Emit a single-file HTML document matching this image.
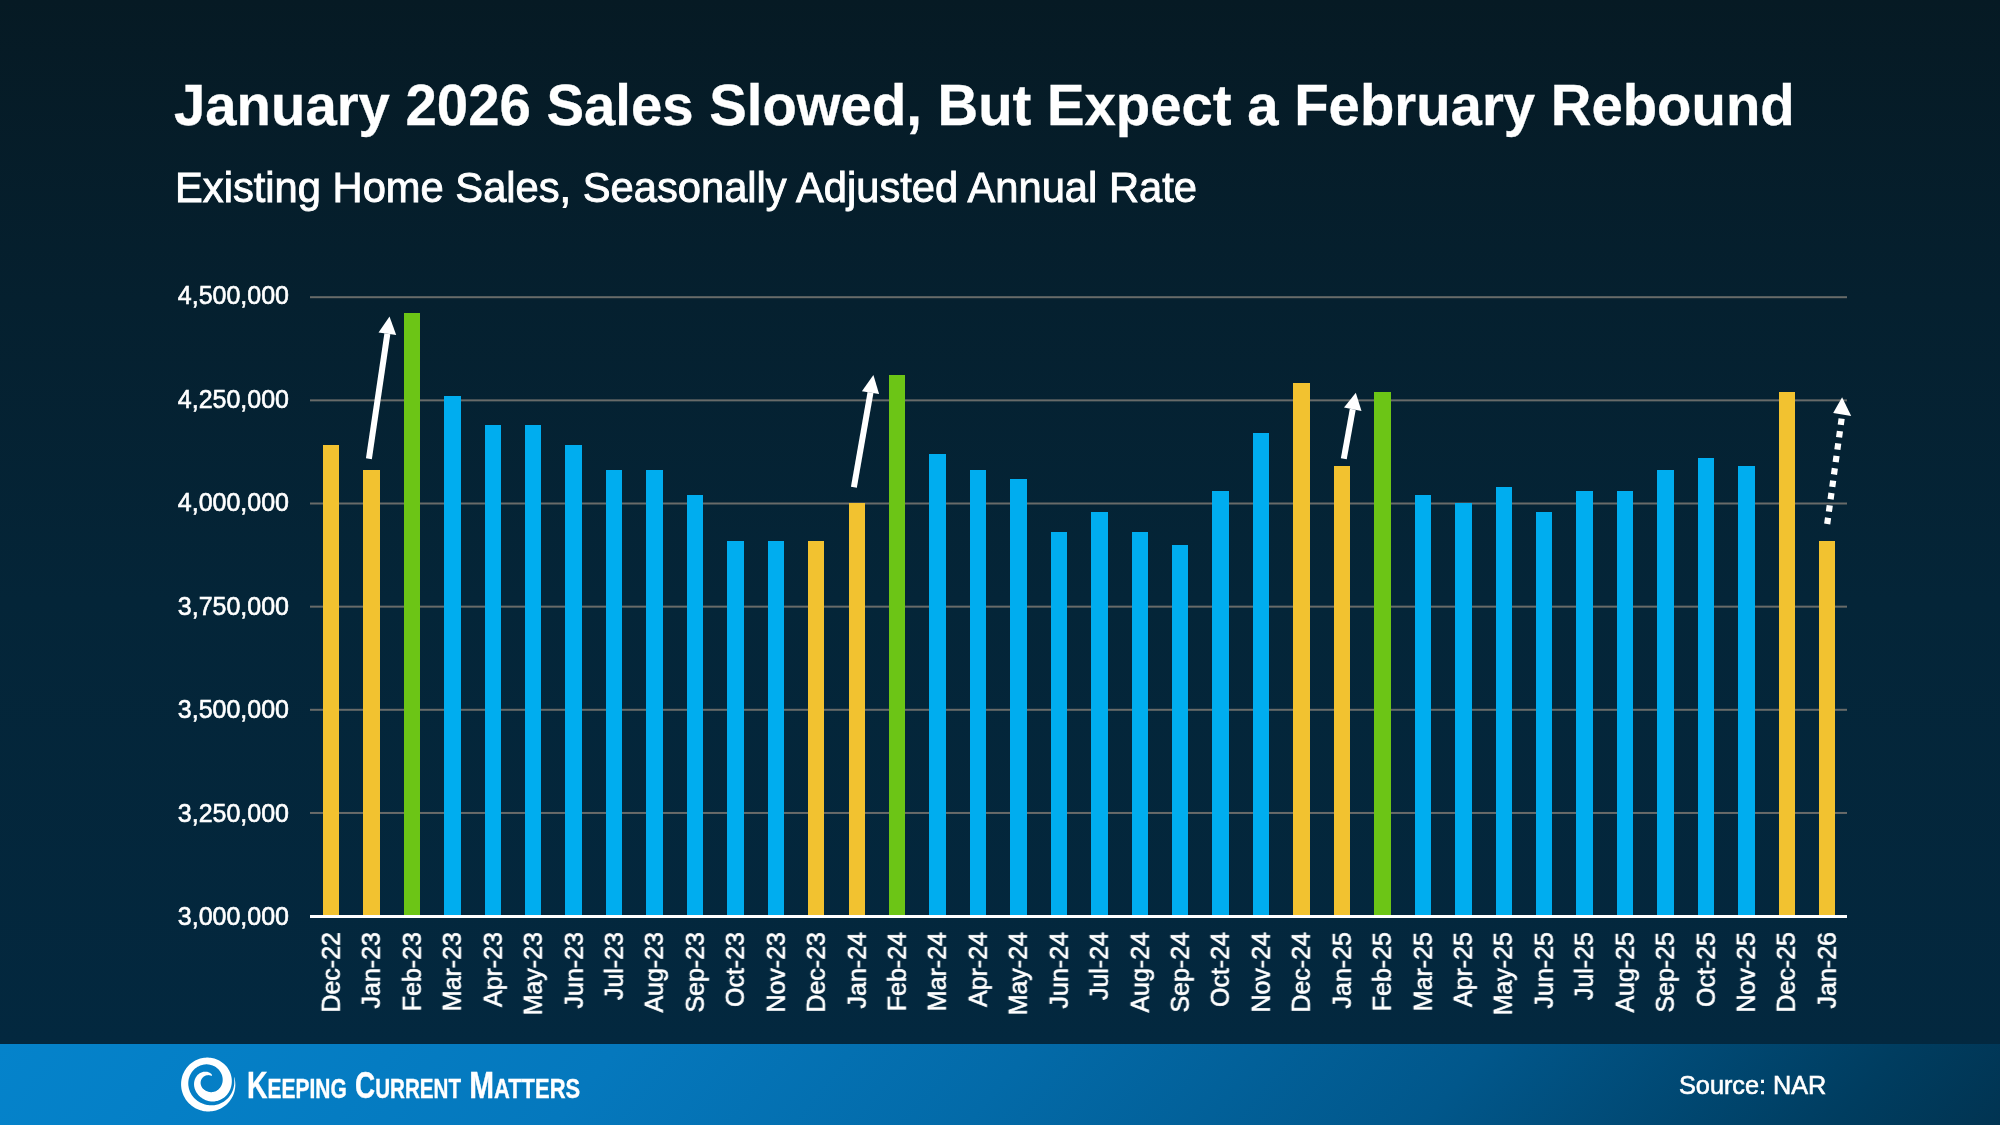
<!DOCTYPE html>
<html><head><meta charset="utf-8">
<style>
html,body{margin:0;padding:0;}
body{width:2000px;height:1125px;overflow:hidden;position:relative;font-family:"Liberation Sans",sans-serif;color:#fff;
background:linear-gradient(180deg,#061a24 0px,#05202f 300px,#042538 600px,#03283f 1044px);}
.title{position:absolute;will-change:transform;transform-origin:0 51.5px;transform:scaleY(1.03);-webkit-text-stroke:0.3px #fff;left:174px;top:74px;font-size:56.3px;font-weight:bold;white-space:nowrap;line-height:64px;}
.sub{position:absolute;will-change:transform;-webkit-text-stroke:0.9px #fff;left:175px;top:164px;font-size:41.7px;white-space:nowrap;line-height:48px;}
.yl{position:absolute;will-change:transform;transform-origin:0 23.7px;transform:scaleY(1.05);-webkit-text-stroke:0.6px #fff;right:1711px;width:200px;text-align:right;font-size:25px;line-height:30px;white-space:nowrap;}
.xa{position:absolute;top:931.6px;width:0;height:0;transform-origin:0 0;transform:rotate(-90deg) scaleY(1.05);will-change:transform;}
.xa span{position:absolute;right:0;top:-23.7px;line-height:30px;font-size:25px;white-space:nowrap;-webkit-text-stroke:0.6px #fff;}
svg{position:absolute;left:0;top:0;}
.footer{position:absolute;left:0;top:1044px;width:2000px;height:81px;
background:linear-gradient(130deg,#0583cb 0%,#0578bd 30%,#036aa8 50%,#01578b 72%,#003d60 92%,#013452 100%);}
.src{position:absolute;will-change:transform;-webkit-text-stroke:0.6px #fff;left:1679px;top:1070px;font-size:25.25px;line-height:30px;white-space:nowrap;}
</style></head><body>
<div class="title">January 2026 Sales Slowed, But Expect a February Rebound</div>
<div class="sub">Existing Home Sales, Seasonally Adjusted Annual Rate</div>
<svg width="2000" height="1125" viewBox="0 0 2000 1125">
<rect x="310" y="296.20" width="1537" height="2" fill="#686b69"/><rect x="310" y="399.35" width="1537" height="2" fill="#686b69"/><rect x="310" y="502.50" width="1537" height="2" fill="#686b69"/><rect x="310" y="605.65" width="1537" height="2" fill="#686b69"/><rect x="310" y="708.80" width="1537" height="2" fill="#686b69"/><rect x="310" y="811.95" width="1537" height="2" fill="#686b69"/>
<rect x="323" y="445" width="16" height="471" fill="#f2c230"/><rect x="363" y="470" width="17" height="446" fill="#f2c230"/><rect x="404" y="313" width="16" height="603" fill="#6cc516"/><rect x="444" y="396" width="17" height="520" fill="#00adef"/><rect x="485" y="425" width="16" height="491" fill="#00adef"/><rect x="525" y="425" width="16" height="491" fill="#00adef"/><rect x="565" y="445" width="17" height="471" fill="#00adef"/><rect x="606" y="470" width="16" height="446" fill="#00adef"/><rect x="646" y="470" width="17" height="446" fill="#00adef"/><rect x="687" y="495" width="16" height="421" fill="#00adef"/><rect x="727" y="541" width="17" height="375" fill="#00adef"/><rect x="768" y="541" width="16" height="375" fill="#00adef"/><rect x="808" y="541" width="16" height="375" fill="#f2c230"/><rect x="849" y="503" width="16" height="413" fill="#f2c230"/><rect x="889" y="375" width="16" height="541" fill="#6cc516"/><rect x="929" y="454" width="17" height="462" fill="#00adef"/><rect x="970" y="470" width="16" height="446" fill="#00adef"/><rect x="1010" y="479" width="17" height="437" fill="#00adef"/><rect x="1051" y="532" width="16" height="384" fill="#00adef"/><rect x="1091" y="512" width="17" height="404" fill="#00adef"/><rect x="1132" y="532" width="16" height="384" fill="#00adef"/><rect x="1172" y="545" width="16" height="371" fill="#00adef"/><rect x="1212" y="491" width="17" height="425" fill="#00adef"/><rect x="1253" y="433" width="16" height="483" fill="#00adef"/><rect x="1293" y="383" width="17" height="533" fill="#f2c230"/><rect x="1334" y="466" width="16" height="450" fill="#f2c230"/><rect x="1374" y="392" width="17" height="524" fill="#6cc516"/><rect x="1415" y="495" width="16" height="421" fill="#00adef"/><rect x="1455" y="503" width="17" height="413" fill="#00adef"/><rect x="1496" y="487" width="16" height="429" fill="#00adef"/><rect x="1536" y="512" width="16" height="404" fill="#00adef"/><rect x="1576" y="491" width="17" height="425" fill="#00adef"/><rect x="1617" y="491" width="16" height="425" fill="#00adef"/><rect x="1657" y="470" width="17" height="446" fill="#00adef"/><rect x="1698" y="458" width="16" height="458" fill="#00adef"/><rect x="1738" y="466" width="17" height="450" fill="#00adef"/><rect x="1779" y="392" width="16" height="524" fill="#f2c230"/><rect x="1819" y="541" width="16" height="375" fill="#f2c230"/>
<rect x="310" y="915" width="1537" height="3" fill="#fff"/>
<line x1="368.9" y1="458.7" x2="387.35" y2="333.70" stroke="#fff" stroke-width="6"/><polygon points="389.5,316.4 378.5,332.5 396.2,334.9" fill="#fff"/><line x1="853.9" y1="487.3" x2="870.50" y2="392.60" stroke="#fff" stroke-width="6"/><polygon points="873.4,375.0 861.9,391.3 879.1,393.9" fill="#fff"/><line x1="1343.8" y1="458.7" x2="1352.75" y2="409.30" stroke="#fff" stroke-width="6"/><polygon points="1355.8,392.7 1344.0,407.6 1361.5,411.0" fill="#fff"/><line x1="1827.2" y1="524.0" x2="1842.20" y2="414.45" stroke="#fff" stroke-width="6.2" stroke-dasharray="6.3 6.2"/><polygon points="1842.1,397.3 1833.2,412.9 1851.2,416.0" fill="#fff"/>
</svg>
<div class="yl" style="top:280.0px">4,500,000</div><div class="yl" style="top:383.5px">4,250,000</div><div class="yl" style="top:487.0px">4,000,000</div><div class="yl" style="top:590.5px">3,750,000</div><div class="yl" style="top:694.0px">3,500,000</div><div class="yl" style="top:797.5px">3,250,000</div><div class="yl" style="top:901.0px">3,000,000</div>
<div class="xa" style="left:340.00px"><span>Dec-22</span></div><div class="xa" style="left:380.43px"><span>Jan-23</span></div><div class="xa" style="left:420.86px"><span>Feb-23</span></div><div class="xa" style="left:461.29px"><span>Mar-23</span></div><div class="xa" style="left:501.72px"><span>Apr-23</span></div><div class="xa" style="left:542.15px"><span>May-23</span></div><div class="xa" style="left:582.58px"><span>Jun-23</span></div><div class="xa" style="left:623.01px"><span>Jul-23</span></div><div class="xa" style="left:663.44px"><span>Aug-23</span></div><div class="xa" style="left:703.87px"><span>Sep-23</span></div><div class="xa" style="left:744.30px"><span>Oct-23</span></div><div class="xa" style="left:784.73px"><span>Nov-23</span></div><div class="xa" style="left:825.16px"><span>Dec-23</span></div><div class="xa" style="left:865.59px"><span>Jan-24</span></div><div class="xa" style="left:906.02px"><span>Feb-24</span></div><div class="xa" style="left:946.45px"><span>Mar-24</span></div><div class="xa" style="left:986.88px"><span>Apr-24</span></div><div class="xa" style="left:1027.31px"><span>May-24</span></div><div class="xa" style="left:1067.74px"><span>Jun-24</span></div><div class="xa" style="left:1108.17px"><span>Jul-24</span></div><div class="xa" style="left:1148.60px"><span>Aug-24</span></div><div class="xa" style="left:1189.03px"><span>Sep-24</span></div><div class="xa" style="left:1229.46px"><span>Oct-24</span></div><div class="xa" style="left:1269.89px"><span>Nov-24</span></div><div class="xa" style="left:1310.32px"><span>Dec-24</span></div><div class="xa" style="left:1350.75px"><span>Jan-25</span></div><div class="xa" style="left:1391.18px"><span>Feb-25</span></div><div class="xa" style="left:1431.61px"><span>Mar-25</span></div><div class="xa" style="left:1472.04px"><span>Apr-25</span></div><div class="xa" style="left:1512.47px"><span>May-25</span></div><div class="xa" style="left:1552.90px"><span>Jun-25</span></div><div class="xa" style="left:1593.33px"><span>Jul-25</span></div><div class="xa" style="left:1633.76px"><span>Aug-25</span></div><div class="xa" style="left:1674.19px"><span>Sep-25</span></div><div class="xa" style="left:1714.62px"><span>Oct-25</span></div><div class="xa" style="left:1755.05px"><span>Nov-25</span></div><div class="xa" style="left:1795.48px"><span>Dec-25</span></div><div class="xa" style="left:1835.91px"><span>Jan-26</span></div>
<div class="footer"></div>
<svg width="2000" height="1125" viewBox="0 0 2000 1125">
<path fill="#fff" d="M212.04,1075.67 L211.89,1074.77 L211.51,1074.30 L211.10,1073.87 L210.64,1073.46 L210.15,1073.09 L209.62,1072.76 L209.07,1072.47 L208.49,1072.22 L207.89,1072.01 L207.27,1071.85 L206.64,1071.73 L205.99,1071.66 L205.34,1071.63 L204.68,1071.65 L204.03,1071.71 L203.37,1071.82 L202.72,1071.97 L202.07,1072.17 L201.44,1072.40 L200.82,1072.68 L200.22,1073.00 L199.63,1073.35 L199.07,1073.74 L198.53,1074.16 L198.02,1074.62 L197.53,1075.11 L197.07,1075.62 L196.63,1076.16 L196.23,1076.73 L195.86,1077.31 L195.53,1077.92 L195.23,1078.54 L194.96,1079.18 L194.72,1079.83 L194.52,1080.49 L194.36,1081.17 L194.22,1081.84 L194.13,1082.53 L194.06,1083.22 L194.03,1083.91 L194.04,1084.59 L194.08,1085.28 L194.14,1085.97 L194.25,1086.65 L194.38,1087.32 L194.54,1087.99 L194.73,1088.65 L194.95,1089.30 L195.19,1089.94 L195.47,1090.58 L195.77,1091.20 L196.10,1091.80 L196.45,1092.40 L196.82,1092.99 L197.22,1093.56 L197.65,1094.11 L198.09,1094.66 L198.56,1095.19 L199.05,1095.70 L199.57,1096.20 L200.10,1096.68 L200.66,1097.15 L201.24,1097.61 L201.84,1098.04 L202.46,1098.46 L203.11,1098.86 L203.78,1099.24 L204.48,1099.59 L205.19,1099.93 L205.93,1100.23 L206.69,1100.50 L207.48,1100.75 L208.28,1100.96 L209.10,1101.14 L209.94,1101.28 L210.80,1101.39 L211.68,1101.45 L212.57,1101.48 L213.47,1101.46 L214.37,1101.39 L215.29,1101.28 L216.21,1101.12 L217.13,1100.91 L218.06,1100.65 L218.97,1100.34 L219.89,1099.98 L220.79,1099.56 L221.68,1099.10 L222.55,1098.58 L223.40,1098.01 L224.22,1097.39 L225.02,1096.72 L225.79,1096.00 L226.53,1095.23 L227.23,1094.41 L227.89,1093.55 L228.50,1092.65 L229.08,1091.71 L229.60,1090.73 L230.07,1089.71 L230.49,1088.66 L230.86,1087.59 L231.17,1086.49 L231.42,1085.36 L231.62,1084.22 L231.75,1083.06 L231.82,1081.88 L231.83,1080.70 L231.77,1079.51 L231.65,1078.32 L231.47,1077.13 L231.22,1075.94 L230.90,1074.77 L230.53,1073.60 L230.09,1072.45 L229.58,1071.33 L229.02,1070.22 L228.39,1069.14 L227.71,1068.10 L226.96,1067.08 L226.17,1066.10 L225.32,1065.17 L224.41,1064.27 L223.46,1063.43 L222.46,1062.63 L221.42,1061.88 L220.34,1061.19 L219.22,1060.55 L218.06,1059.97 L216.88,1059.45 L215.66,1058.99 L214.42,1058.59 L213.16,1058.26 L211.88,1057.99 L210.59,1057.79 L209.28,1057.66 L207.97,1057.59 L206.66,1057.59 L205.34,1057.66 L204.03,1057.79 L202.73,1057.99 L201.43,1058.26 L200.15,1058.60 L198.89,1059.00 L197.65,1059.46 L196.44,1059.99 L195.25,1060.58 L194.09,1061.22 L192.97,1061.93 L191.88,1062.69 L190.83,1063.51 L189.82,1064.37 L188.86,1065.29 L187.95,1066.25 L187.08,1067.26 L186.27,1068.31 L185.51,1069.40 L184.81,1070.53 L184.16,1071.69 L183.57,1072.88 L183.04,1074.09 L182.57,1075.34 L182.17,1076.60 L181.83,1077.88 L181.55,1079.18 L181.33,1080.49 L181.18,1081.80 L181.10,1083.12 L181.08,1084.45 L181.12,1085.77 L181.23,1087.09 L181.41,1088.40 L181.64,1089.70 L181.94,1090.99 L182.31,1092.26 L182.73,1093.51 L183.21,1094.74 L183.75,1095.94 L184.35,1097.12 L185.01,1098.26 L185.72,1099.38 L186.48,1100.45 L187.29,1101.49 L188.16,1102.49 L189.07,1103.45 L190.02,1104.36 L191.02,1105.22 L192.05,1106.04 L193.13,1106.80 L194.24,1107.51 L195.39,1108.17 L196.56,1108.77 L197.77,1109.32 L199.00,1109.80 L200.25,1110.23 L201.52,1110.59 L202.81,1110.89 L204.11,1111.13 L205.42,1111.31 L206.74,1111.42 L208.07,1111.46 L209.39,1111.45 L210.72,1111.36 L212.04,1111.22 L213.35,1111.00 L214.65,1110.73 L215.93,1110.39 L217.20,1109.98 L218.45,1109.52 L219.67,1108.99 L220.87,1108.41 L222.03,1107.76 L223.17,1107.06 L224.26,1106.31 L225.32,1105.50 L226.34,1104.63 L227.32,1103.72 L228.24,1102.76 L229.12,1101.76 L229.95,1100.71 L230.73,1099.62 L231.45,1098.50 L232.12,1097.34 L232.72,1096.15 L233.27,1094.93 L233.75,1093.68 L234.17,1092.41 L234.53,1091.13 L234.82,1089.82 L235.05,1088.51 L235.21,1087.18 L235.30,1085.85 L235.33,1084.52 L235.29,1083.18 L235.18,1081.85 L235.00,1080.53 L234.76,1079.22 L234.45,1077.93 L233.93,1076.70 L233.93,1076.70 L234.02,1078.04 L234.18,1079.34 L234.27,1080.64 L234.30,1081.94 L234.26,1083.23 L234.15,1084.51 L233.98,1085.78 L233.74,1087.03 L233.44,1088.26 L233.08,1089.47 L232.65,1090.65 L232.17,1091.80 L231.63,1092.91 L231.04,1093.99 L230.39,1095.04 L229.70,1096.03 L228.95,1096.99 L228.17,1097.90 L227.34,1098.76 L226.48,1099.57 L225.58,1100.33 L224.65,1101.04 L223.69,1101.69 L222.71,1102.29 L221.70,1102.84 L220.68,1103.33 L219.65,1103.76 L218.60,1104.14 L217.54,1104.47 L216.48,1104.74 L215.41,1104.96 L214.35,1105.13 L213.28,1105.25 L212.23,1105.31 L211.17,1105.33 L210.13,1105.30 L209.10,1105.22 L208.07,1105.10 L207.07,1104.94 L206.08,1104.73 L205.10,1104.48 L204.14,1104.20 L203.21,1103.87 L202.29,1103.51 L201.39,1103.12 L200.51,1102.69 L199.66,1102.23 L198.82,1101.74 L198.02,1101.22 L197.23,1100.66 L196.47,1100.08 L195.74,1099.47 L195.03,1098.82 L194.35,1098.15 L193.71,1097.46 L193.09,1096.73 L192.50,1095.98 L191.95,1095.21 L191.43,1094.41 L190.95,1093.59 L190.50,1092.74 L190.09,1091.88 L189.72,1091.00 L189.39,1090.10 L189.10,1089.19 L188.85,1088.26 L188.65,1087.32 L188.49,1086.36 L188.37,1085.40 L188.30,1084.44 L188.28,1083.46 L188.30,1082.49 L188.37,1081.52 L188.49,1080.54 L188.66,1079.58 L188.87,1078.62 L189.14,1077.67 L189.45,1076.73 L189.81,1075.81 L190.21,1074.90 L190.67,1074.02 L191.17,1073.16 L191.71,1072.32 L192.30,1071.51 L192.93,1070.74 L193.60,1070.00 L194.31,1069.29 L195.06,1068.62 L195.84,1067.99 L196.66,1067.41 L197.50,1066.87 L198.38,1066.38 L199.28,1065.94 L200.20,1065.55 L201.14,1065.21 L202.10,1064.93 L203.07,1064.70 L204.06,1064.52 L205.04,1064.41 L206.03,1064.35 L207.02,1064.35 L208.00,1064.40 L208.98,1064.52 L209.94,1064.69 L210.89,1064.91 L211.82,1065.19 L212.72,1065.52 L213.60,1065.91 L214.45,1066.34 L215.27,1066.81 L216.06,1067.33 L216.80,1067.89 L217.51,1068.48 L218.18,1069.12 L218.81,1069.78 L219.39,1070.47 L219.93,1071.19 L220.42,1071.93 L220.86,1072.69 L221.25,1073.46 L221.60,1074.25 L221.90,1075.05 L222.15,1075.85 L222.35,1076.66 L222.50,1077.47 L222.61,1078.27 L222.66,1079.07 L222.68,1079.86 L222.65,1080.64 L222.58,1081.41 L222.46,1082.16 L222.31,1082.89 L222.12,1083.60 L221.90,1084.29 L221.64,1084.96 L221.35,1085.60 L221.03,1086.21 L220.68,1086.80 L220.31,1087.35 L219.91,1087.88 L219.50,1088.37 L219.07,1088.83 L218.62,1089.26 L218.16,1089.66 L217.69,1090.03 L217.20,1090.37 L216.72,1090.67 L216.22,1090.94 L215.73,1091.19 L215.23,1091.40 L214.73,1091.58 L214.24,1091.74 L213.75,1091.87 L213.27,1091.97 L212.79,1092.05 L212.32,1092.11 L211.86,1092.14 L211.41,1092.16 L210.96,1092.15 L210.53,1092.13 L210.11,1092.09 L209.70,1092.04 L209.30,1091.97 L208.92,1091.89 L208.54,1091.80 L208.18,1091.70 L207.83,1091.59 L207.48,1091.48 L207.15,1091.35 L206.82,1091.22 L206.51,1091.08 L206.20,1090.94 L205.90,1090.79 L205.60,1090.63 L205.32,1090.46 L205.04,1090.29 L204.77,1090.12 L204.50,1089.93 L204.24,1089.74 L203.99,1089.54 L203.74,1089.33 L203.50,1089.12 L203.26,1088.90 L203.03,1088.67 L202.81,1088.43 L202.60,1088.18 L202.39,1087.92 L202.19,1087.66 L202.00,1087.38 L201.82,1087.10 L201.65,1086.80 L201.49,1086.50 L201.34,1086.19 L201.20,1085.87 L201.08,1085.54 L200.97,1085.20 L200.87,1084.85 L200.79,1084.50 L200.72,1084.14 L200.67,1083.77 L200.64,1083.40 L200.62,1083.02 L200.62,1082.64 L200.64,1082.25 L200.68,1081.87 L200.74,1081.48 L200.83,1081.09 L200.93,1080.70 L201.05,1080.32 L201.19,1079.93 L201.36,1079.56 L201.55,1079.19 L201.75,1078.82 L201.98,1078.47 L202.23,1078.13 L202.50,1077.79 L202.79,1077.48 L203.10,1077.17 L203.43,1076.88 L203.78,1076.61 L204.14,1076.36 L204.52,1076.13 L204.91,1075.92 L205.32,1075.73 L205.73,1075.57 L206.16,1075.43 L206.60,1075.32 L207.04,1075.23 L207.49,1075.17 L207.94,1075.13 L208.40,1075.12 L208.85,1075.15 L209.30,1075.20 L209.75,1075.27 L210.19,1075.38 L210.63,1075.51 L211.05,1075.67 L211.46,1075.86 L212.04,1075.67Z"/>
<g font-family="Liberation Sans" font-weight="bold" fill="#fff" stroke="#fff" stroke-width="0.4" style="will-change:transform">
<text x="247" y="1097.6" textLength="99.75" lengthAdjust="spacingAndGlyphs"><tspan font-size="36.5">K</tspan><tspan font-size="26.9">EEPING</tspan></text>
<text x="355" y="1097.6" textLength="106" lengthAdjust="spacingAndGlyphs"><tspan font-size="36.5">C</tspan><tspan font-size="26.9">URRENT</tspan></text>
<text x="469.25" y="1097.6" textLength="110.85" lengthAdjust="spacingAndGlyphs"><tspan font-size="36.5">M</tspan><tspan font-size="26.9">ATTERS</tspan></text>
</g>
</svg>
<div class="src">Source: NAR</div>
</body></html>
